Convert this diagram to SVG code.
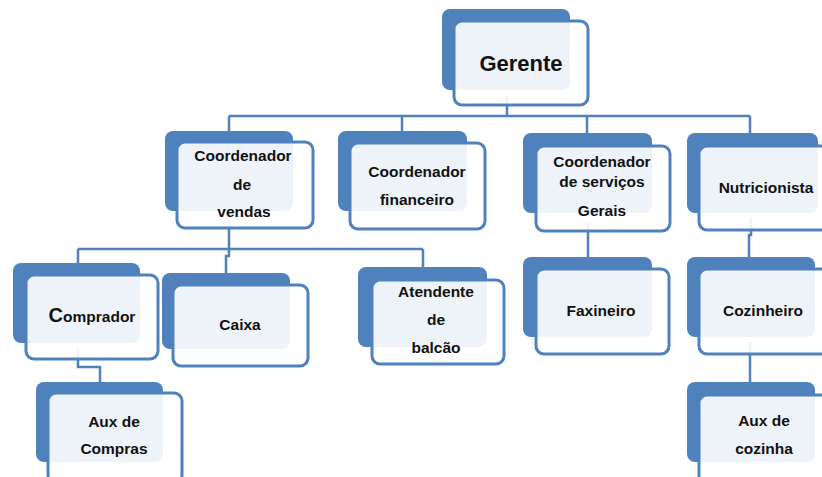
<svg xmlns="http://www.w3.org/2000/svg" width="822" height="477" viewBox="0 0 822 477">
<style>
.bk{fill:#4F81BD;}
.fr{fill:#ffffff;fill-opacity:0.9;stroke:#4F81BD;stroke-width:3;}
.cn{fill:none;stroke:#4F81BD;stroke-width:2.5;}
text{font-family:"Liberation Sans",Arial,sans-serif;font-weight:bold;font-size:15.5px;fill:#111;text-anchor:middle;}
</style>
<rect width="822" height="477" fill="#ffffff"/>
<g id="connectors">
<path class="cn" d="M507 95 V116 M229 116 H750 M229 116 V131 M402 116 V131 M587 116 V133 M750 116 V133"/>
<path class="cn" d="M229 220 V249 M78 249 H423 M78 249 V263 M229 249 V256 H226 V273 M423 249 V267"/>
<path class="cn" d="M78 348 V367 H100 V382"/>
<path class="cn" d="M588 223 V257"/>
<path class="cn" d="M751 218 V235 H749 V257"/>
<path class="cn" d="M750 342 V382"/>
</g>
<g id="gerente">
<rect class="bk" x="442" y="9" width="128" height="81" rx="8"/>
<rect class="fr" x="454" y="21" width="134" height="84" rx="8"/>
<text x="521" y="71" style="font-size:22px">Gerente</text>
</g>
<g id="coord-vendas">
<rect class="bk" x="165" y="131" width="128" height="80" rx="8"/>
<rect class="fr" x="177" y="142" width="136" height="86" rx="8"/>
<text x="243" y="161">Coordenador</text>
<text x="242" y="190">de</text>
<text x="244" y="217">vendas</text>
</g>
<g id="coord-financeiro">
<rect class="bk" x="338" y="131" width="129" height="80" rx="8"/>
<rect class="fr" x="350" y="143" width="135" height="86" rx="8"/>
<text x="417" y="177">Coordenador</text>
<text x="417" y="205">financeiro</text>
</g>
<g id="coord-servicos">
<rect class="bk" x="523" y="133" width="129" height="80" rx="8"/>
<rect class="fr" x="536" y="146" width="134" height="85" rx="8"/>
<text x="602" y="167">Coordenador</text>
<text x="602" y="187">de serviços</text>
<text x="602" y="216">Gerais</text>
</g>
<g id="nutricionista">
<rect class="bk" x="687" y="133" width="131" height="80" rx="8"/>
<rect class="fr" x="699" y="146" width="134" height="84" rx="8"/>
<text x="766" y="193">Nutricionista</text>
</g>
<g id="comprador">
<rect class="bk" x="13" y="263" width="127" height="80" rx="8"/>
<rect class="fr" x="26" y="275" width="132" height="84" rx="8"/>
<text x="92" y="322"><tspan style="font-size:20px">C</tspan>omprador</text>
</g>
<g id="caixa">
<rect class="bk" x="162" y="273" width="128" height="76" rx="8"/>
<rect class="fr" x="173" y="285" width="135" height="81" rx="8"/>
<text x="240" y="330">Caixa</text>
</g>
<g id="atendente">
<rect class="bk" x="358" y="267" width="129" height="80" rx="8"/>
<rect class="fr" x="372" y="280" width="132" height="84" rx="8"/>
<text x="436" y="297">Atendente</text>
<text x="436" y="325">de</text>
<text x="436" y="353">balcão</text>
</g>
<g id="faxineiro">
<rect class="bk" x="523" y="257" width="129" height="80" rx="8"/>
<rect class="fr" x="536" y="269" width="133" height="85" rx="8"/>
<text x="601" y="316">Faxineiro</text>
</g>
<g id="cozinheiro">
<rect class="bk" x="687" y="257" width="128" height="80" rx="8"/>
<rect class="fr" x="699" y="269" width="134" height="85" rx="8"/>
<text x="763" y="316">Cozinheiro</text>
</g>
<g id="aux-compras">
<rect class="bk" x="36" y="382" width="127" height="80" rx="8"/>
<rect class="fr" x="48" y="393" width="134" height="90" rx="8"/>
<text x="114" y="427">Aux de</text>
<text x="114" y="454">Compras</text>
</g>
<g id="aux-cozinha">
<rect class="bk" x="687" y="382" width="128" height="80" rx="8"/>
<rect class="fr" x="699" y="395" width="134" height="90" rx="8"/>
<text x="764" y="426">Aux de</text>
<text x="764" y="454">cozinha</text>
</g>
</svg>
